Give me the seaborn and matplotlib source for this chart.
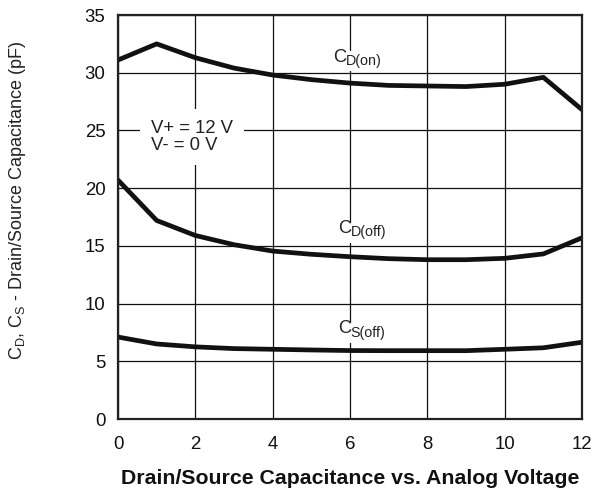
import matplotlib
matplotlib.use("Agg")
import matplotlib.pyplot as plt
import seaborn as sns
import pandas as pd

# ---- data ----
voltage = [0, 1, 2, 3, 4, 5, 6, 7, 8, 9, 10, 11, 12]
cd_on = [31.1, 32.5, 31.3, 30.4, 29.8, 29.4, 29.1, 28.9, 28.85, 28.8, 29.0, 29.6, 26.8]
cd_off = [20.7, 17.2, 15.9, 15.1, 14.55, 14.27, 14.06, 13.89, 13.8, 13.8, 13.92, 14.3, 15.7]
cs_off = [7.1, 6.5, 6.25, 6.1, 6.04, 5.98, 5.93, 5.92, 5.92, 5.92, 6.04, 6.17, 6.65]
series_names = ["CD(on)", "CD(off)", "CS(off)"]
label_subs = ["D(on)", "D(off)", "S(off)"]
label_x = [5.56, 5.68, 5.68]
label_y = [30.96, 16.1, 7.42]
x_ticks = [0, 2, 4, 6, 8, 10, 12]
y_ticks = [0, 5, 10, 15, 20, 25, 30, 35]

df = pd.DataFrame({
    "V": voltage * 3,
    "C": cd_on + cd_off + cs_off,
    "series": [series_names[0]] * 13 + [series_names[1]] * 13 + [series_names[2]] * 13,
})

sns.set_theme(style="white")
plt.rcParams["font.family"] = ["Liberation Sans", "DejaVu Sans"]
plt.rcParams["mathtext.fontset"] = "custom"
plt.rcParams["mathtext.rm"] = "Liberation Sans"
plt.rcParams["mathtext.it"] = "Liberation Sans"

fig = plt.figure(figsize=(5.94, 4.91), dpi=100)
ax = fig.add_axes([118 / 594, 1 - 419 / 491, 464 / 594, 404 / 491])

sns.lineplot(data=df, x="V", y="C", hue="series",
             palette=["#111111"] * 3, linewidth=3.4, legend=False, ax=ax)

ax.set_xlim(0, 12)
ax.set_ylim(0, 35)
ax.set_xticks(x_ticks)
ax.set_yticks(y_ticks)
ax.grid(True, color="#111111", linewidth=0.9)
ax.set_axisbelow(True)
for s in ax.spines.values():
    s.set_color("#222222")
    s.set_linewidth(1.6)
    s.set_visible(True)
ax.tick_params(axis="both", length=0, labelsize=13.4, colors="#111111")
ax.tick_params(axis="y", pad=9)
ax.tick_params(axis="x", pad=12)

ax.set_xlabel("Drain/Source Capacitance vs. Analog Voltage",
              fontsize=15.3, fontweight="bold", color="#111111")
ax.xaxis.set_label_coords(0.5, -0.123)
ax.set_ylabel(r"C$_\mathregular{D}$, C$_\mathregular{S}$ - Drain/Source Capacitance (pF)",
              fontsize=13, color="#222222")
ax.yaxis.set_label_coords(-0.194, 0.542)

for lx, ly, sub in zip(label_x, label_y, label_subs):
    ax.text(lx, ly, "C", fontsize=13.2, ha="left", va="baseline", color="#222222",
            zorder=6)
    ax.annotate(sub, xy=(lx, ly), xycoords="data", xytext=(9.5, -2.4),
                textcoords="offset points", fontsize=10.3, ha="left", va="baseline",
                color="#222222",
                bbox=dict(facecolor="white", edgecolor="none", pad=2.5), zorder=5)

ax.text(0.853, 24.4, "V+ = 12 V\nV- = 0 V", fontsize=13.3, ha="left", va="center",
        linespacing=1.0, color="#222222",
        bbox=dict(facecolor="white", edgecolor="none", pad=8))

fig.savefig("out.png", dpi=100)
